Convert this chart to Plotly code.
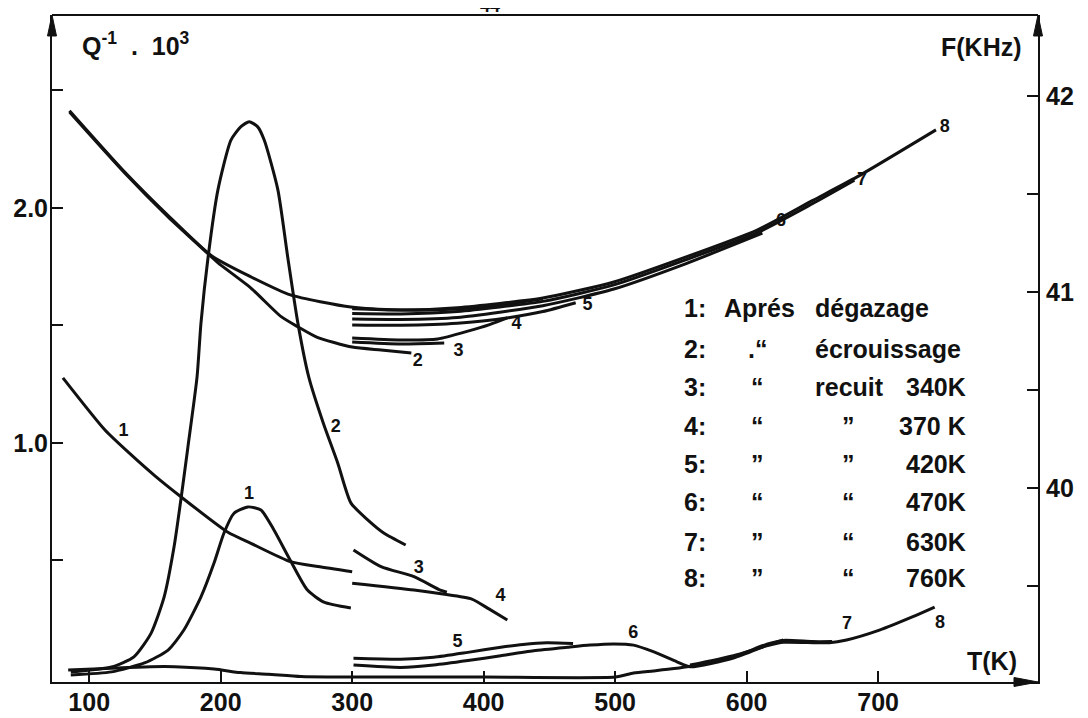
import plotly.graph_objects as go

# ---------------- data (T in K) ----------------
# Q^-1 . 10^3 curves (left axis)
T_q1_peak = [86, 117, 142, 160, 172, 185, 195, 202.5, 210, 220.7, 230.6, 240.5, 253, 266, 278.5, 299]
Q_q1_peak = [0.013, 0.026, 0.064, 0.119, 0.204, 0.345, 0.49, 0.617, 0.70, 0.728, 0.715, 0.63, 0.50, 0.374, 0.323, 0.298]

T_q1_desc = [80, 112, 132, 150, 170, 205.5, 223, 253, 274, 300]
Q_q1_desc = [1.277, 1.055, 0.949, 0.86, 0.77, 0.62, 0.573, 0.495, 0.474, 0.452]

T_q2 = [86, 117, 134, 147, 157, 164.5, 170, 175, 182, 185, 190.4, 197.9, 207.8, 215.4, 221.7,
        228, 233.1, 243.5, 251, 258.7, 267, 278, 289, 299, 312, 324, 340.7]
Q_q2 = [0.026, 0.047, 0.09, 0.19, 0.345, 0.557, 0.77, 0.98, 1.28, 1.51, 1.79, 2.077, 2.289, 2.346, 2.367,
        2.346, 2.289, 2.077, 1.79, 1.51, 1.28, 1.085, 0.915, 0.745, 0.672, 0.617, 0.566]

T_q3 = [301, 322, 347, 367, 372]
Q_q3 = [0.545, 0.474, 0.431, 0.374, 0.365]

T_q4 = [300, 347, 369, 391, 404, 418]
Q_q4 = [0.403, 0.374, 0.357, 0.336, 0.294, 0.247]

T_q5 = [301, 337, 362, 388, 413, 430, 448, 468]
Q_q5 = [0.084, 0.08, 0.088, 0.109, 0.131, 0.143, 0.15, 0.147]

T_q6 = [301, 337, 362, 388, 413, 438, 464, 481, 499, 514, 529, 547, 557, 590, 616, 628]
Q_q6 = [0.055, 0.045, 0.055, 0.074, 0.095, 0.116, 0.131, 0.14, 0.145, 0.14, 0.112, 0.069, 0.048, 0.085, 0.14, 0.162]

T_q7 = [84, 122, 147, 165, 195, 215, 236, 261, 286, 320, 400, 500, 514, 529, 545, 557, 590, 616, 628, 650, 665]
Q_q7 = [0.034, 0.043, 0.048, 0.048, 0.038, 0.023, 0.016, 0.006, 0.004, 0.004, 0.004, 0.004, 0.021, 0.03, 0.04,
        0.05, 0.09, 0.145, 0.16, 0.155, 0.155]

T_q8 = [557, 590, 616, 628, 663, 676, 701, 726, 743]
Q_q8 = [0.055, 0.095, 0.138, 0.152, 0.15, 0.162, 0.204, 0.26, 0.302]

# Frequency curves F (kHz, right axis)
T_f1 = [85, 127, 160, 193, 223, 253, 299, 337, 375, 420, 445]
F_f1 = [41.925, 41.612, 41.39, 41.185, 41.077, 40.985, 40.923, 40.908, 40.912, 40.94, 40.965]

T_f2 = [85, 127, 160, 193, 198, 223, 246, 259, 273, 300, 322, 345]
F_f2 = [41.918, 41.607, 41.383, 41.179, 41.148, 41.02, 40.874, 40.821, 40.77, 40.719, 40.704, 40.689]

T_f3 = [300, 337, 370]
F_f3 = [40.745, 40.735, 40.74]

T_f4 = [300, 337, 365, 388, 405, 418]
F_f4 = [40.765, 40.755, 40.76, 40.8, 40.835, 40.868]

T_f5 = [300, 337, 380, 420, 445, 470]
F_f5 = [40.832, 40.83, 40.84, 40.87, 40.9, 40.945]

T_f6 = [300, 337, 380, 445, 499, 554, 612]
F_f6 = [40.862, 40.86, 40.87, 40.93, 41.015, 41.145, 41.3]

T_f7 = [300, 337, 380, 445, 499, 554, 608, 650, 682]
F_f7 = [40.89, 40.888, 40.9, 40.952, 41.036, 41.165, 41.302, 41.45, 41.57]

T_f8 = [300, 337, 380, 445, 499, 554, 608, 650, 684, 744]
F_f8 = [40.915, 40.908, 40.92, 40.969, 41.051, 41.179, 41.316, 41.466, 41.587, 41.827]

# curve number labels
q_lbl_T = [126, 221.5, 287.5, 350.6, 412.8, 380.2, 513.8, 676.3, 747]
q_lbl_Q = [1.047, 0.779, 1.064, 0.468, 0.345, 0.153, 0.191, 0.226, 0.234]
q_lbl_txt = ["1", "1", "2", "3", "4", "5", "6", "7", "8"]

f_lbl_T = [349.8, 380.9, 425, 478.9, 626.2, 687.7, 750.7]
f_lbl_F = [40.643, 40.694, 40.832, 40.929, 41.357, 41.571, 41.837]
f_lbl_txt = ["2", "3", "4", "5", "6", "7", "8"]

# legend block
leg_num = ["1:", "2:", "3:", "4:", "5:", "6:", "7:", "8:"]
leg_col1 = ["Aprés", ".\u201c", "\u201c", "\u201c", "\u201d", "\u201c", "\u201d", "\u201d"]
leg_col2 = ["dégazage", "écrouissage", "recuit", "\u201d", "\u201d", "\u201c", "\u201c", "\u201c"]
leg_temp = ["", "", "340K", "370 K", "420K", "470K", "630K", "760K"]

x_ticks = [100, 200, 300, 400, 500, 600, 700]
q_major = [1.0, 2.0]
q_minor = [0.5, 1.5, 2.5]
f_major = [39, 40, 41, 42]
f_minor = [39.5, 40.5, 41.5]

# ---------------- figure ----------------
# The page body adds an 8 px margin, so the figure is drawn 8 px smaller and every
# page-pixel position below is converted with that offset.
FONT = "Liberation Sans, Arial, sans-serif"
INK = "#111111"
OFF = 8
W, H = 1088 - OFF, 718 - OFF
PL, PR, PT, PB = 52, 1038, 15, 682          # plot area in page pixels
L, TOP = PL - OFF, PT - OFF
R, B = W - (PR - OFF), H - (PB - OFF)
PW, PH = PR - PL, PB - PT


def px(x):
    return (x - PL) / PW


def py(y):
    return (PB - y) / PH


fig = go.Figure()


def add(xs, ys, axis):
    fig.add_trace(go.Scatter(x=xs, y=ys, mode="lines", yaxis=axis, showlegend=False, hoverinfo="skip",
                             line=dict(color=INK, width=3.0, shape="spline", smoothing=0.6)))


for xs, ys in [(T_q1_peak, Q_q1_peak), (T_q1_desc, Q_q1_desc), (T_q2, Q_q2), (T_q3, Q_q3), (T_q4, Q_q4),
               (T_q5, Q_q5), (T_q6, Q_q6), (T_q7, Q_q7), (T_q8, Q_q8)]:
    add(xs, ys, "y")
for xs, ys in [(T_f1, F_f1), (T_f2, F_f2), (T_f3, F_f3), (T_f4, F_f4), (T_f5, F_f5), (T_f6, F_f6),
               (T_f7, F_f7), (T_f8, F_f8)]:
    add(xs, ys, "y2")

lbl_font = dict(family=FONT, size=18, color=INK)
fig.add_trace(go.Scatter(x=q_lbl_T, y=q_lbl_Q, mode="text", text=["<b>%s</b>" % t for t in q_lbl_txt],
                         yaxis="y", showlegend=False, hoverinfo="skip", textfont=lbl_font))
fig.add_trace(go.Scatter(x=f_lbl_T, y=f_lbl_F, mode="text", text=["<b>%s</b>" % t for t in f_lbl_txt],
                         yaxis="y2", showlegend=False, hoverinfo="skip", textfont=lbl_font))

ann = []
row_y = [308, 349, 387, 426, 464, 502, 542, 578]
for i in range(8):
    yy = py(row_y[i])
    ann.append(dict(x=px(682), y=yy, xref="paper", yref="paper", text="<b>%s</b>" % leg_num[i],
                    xanchor="left", yanchor="middle", showarrow=False))
    if i == 0:
        ann.append(dict(x=px(722), y=yy, xref="paper", yref="paper", text="<b>%s</b>" % leg_col1[i],
                        xanchor="left", yanchor="middle", showarrow=False))
    else:
        ann.append(dict(x=px(757), y=yy, xref="paper", yref="paper", text="<b>%s</b>" % leg_col1[i],
                        xanchor="center", yanchor="middle", showarrow=False))
    if i <= 2:
        ann.append(dict(x=px(813), y=yy, xref="paper", yref="paper", text="<b>%s</b>" % leg_col2[i],
                        xanchor="left", yanchor="middle", showarrow=False))
    else:
        ann.append(dict(x=px(848), y=yy, xref="paper", yref="paper", text="<b>%s</b>" % leg_col2[i],
                        xanchor="center", yanchor="middle", showarrow=False))
    if leg_temp[i]:
        ann.append(dict(x=px(968), y=yy, xref="paper", yref="paper", text="<b>%s</b>" % leg_temp[i],
                        xanchor="right", yanchor="middle", showarrow=False))

ann.append(dict(x=px(80), y=py(44), xref="paper", yref="paper",
                text="<b>Q<sup>-1</sup>  .  10<sup>3</sup></b>", xanchor="left", yanchor="middle",
                showarrow=False))
ann.append(dict(x=px(1024), y=py(47), xref="paper", yref="paper", text="<b>F(KHz)</b>",
                xanchor="right", yanchor="middle", showarrow=False))
ann.append(dict(x=px(1019), y=py(661), xref="paper", yref="paper", text="<b>T(K)</b>",
                xanchor="right", yanchor="middle", showarrow=False))
ann.append(dict(x=px(490), y=py(6), xref="paper", yref="paper", text="<b>44</b>",
                xanchor="center", yanchor="middle", showarrow=False, font=dict(size=18)))

shapes = [
    dict(type="line", xref="paper", yref="paper", x0=0, x1=1, y0=1, y1=1, line=dict(color=INK, width=2)),
    dict(type="path", xref="paper", yref="paper", fillcolor=INK, line=dict(color=INK, width=1),
         path="M %f %f L %f %f L %f %f Z" % (px(52), py(15), px(47.5), py(36), px(56.5), py(36))),
    dict(type="path", xref="paper", yref="paper", fillcolor=INK, line=dict(color=INK, width=1),
         path="M %f %f L %f %f L %f %f Z" % (px(1038), py(15), px(1033.5), py(36), px(1042.5), py(36))),
    dict(type="path", xref="paper", yref="paper", fillcolor=INK, line=dict(color=INK, width=1),
         path="M %f %f L %f %f L %f %f Z" % (px(1038), py(682), px(1014), py(677.5), px(1014), py(686.5))),
]

axis_font = dict(family=FONT, size=25, color=INK)
common = dict(ticks="inside", ticklen=11, tickwidth=2, tickcolor=INK, showline=True, linecolor=INK,
              linewidth=2, showgrid=False, zeroline=False, tickfont=axis_font, automargin=False)
fig.update_layout(
    width=W, height=H, autosize=False,
    margin=dict(l=L, r=R, t=TOP, b=B, pad=0),
    paper_bgcolor="white", plot_bgcolor="white",
    font=dict(family=FONT, size=25, color=INK),
    showlegend=False,
    annotations=ann,
    shapes=shapes,
    xaxis=dict(range=[71.7, 821.6], tickvals=x_ticks, ticktext=["<b>%d</b>" % v for v in x_ticks],
               ticklabelstandoff=-3, **common),
    yaxis=dict(range=[-0.017, 2.821], tickvals=q_major, ticktext=["<b>%.1f</b>" % v for v in q_major],
               minor=dict(tickvals=q_minor, ticks="inside", ticklen=11, tickwidth=2, tickcolor=INK),
               ticklabelstandoff=-3, **common),
    yaxis2=dict(range=[39.0102, 42.413], tickvals=f_major, ticktext=["<b>%d</b>" % v for v in f_major],
                minor=dict(tickvals=f_minor, ticks="inside", ticklen=11, tickwidth=2, tickcolor=INK),
                overlaying="y", side="right", ticklabelstandoff=1, **common),
)

fig.write_html("out.html")
